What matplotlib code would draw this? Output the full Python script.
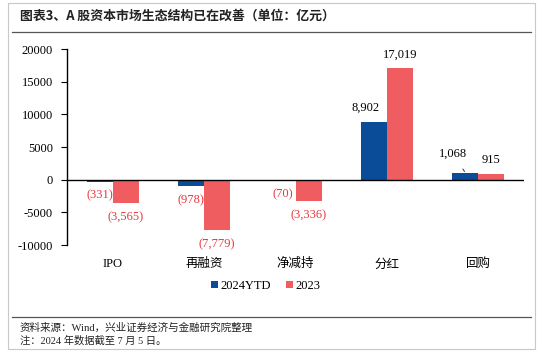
import matplotlib
matplotlib.use("Agg")
import matplotlib.pyplot as plt
from matplotlib.patches import Rectangle
from matplotlib.lines import Line2D

categories = ["IPO", "再融资", "净减持", "分红", "回购"]
series_names = ["2024YTD", "2023"]
values_2024 = [-331, -978, -70, 8902, 1068]
values_2023 = [-3565, -7779, -3336, 17019, 915]
yticks = [-10000, -5000, 0, 5000, 10000, 15000, 20000]

title = "图表3、A 股资本市场生态结构已在改善（单位：亿元）"
source = "资料来源：Wind，兴业证券经济与金融研究院整理"
note = "注：2024 年数据截至 7 月 5 日。"

BLUE = "#0a4c97"
RED = "#f05d61"
LABEL_RED = "#e8383d"
SERIF = ["Liberation Serif", "Noto Serif CJK SC", "Noto Sans CJK SC", "DejaVu Serif"]
CJK = ["Noto Sans CJK SC", "DejaVu Sans"]
MIX = ["Liberation Serif", "Noto Sans CJK SC", "DejaVu Sans"]

W, H = 542, 351
fig = plt.figure(figsize=(W / 100, H / 100), dpi=100)

def px(x, y):
    return x / W, 1 - y / H

# frame and separators
fig.patches.append(Rectangle((8 / W, 1 - 349 / H), (535 - 8) / W, (349 - 3) / H,
                             transform=fig.transFigure, fill=False,
                             edgecolor="#c8c8c8", linewidth=0.8))
for yy in (32, 317):
    fig.lines.append(Line2D([12 / W, 531 / W], [1 - yy / H, 1 - yy / H],
                            transform=fig.transFigure, color="#555555", linewidth=0.9))

fig.text(*px(20, 16), title, family=CJK, fontsize=9.3, fontweight="bold",
         va="center", ha="left", color="#222222")
fig.text(*px(20, 328), source, family=MIX, fontsize=7.6, va="center", ha="left", color="#222222")
fig.text(*px(20, 341), note, family=MIX, fontsize=7.4, va="center", ha="left", color="#222222")

l, t, r, b = 67, 49, 524, 245
ax = fig.add_axes([l / W, 1 - b / H, (r - l) / W, (b - t) / H])
ax.set_xlim(-0.5, len(categories) - 0.5)
ax.set_ylim(-10000, 20000)

x = list(range(len(categories)))
bw = 0.285
b1 = ax.bar([i - bw / 2 for i in x], values_2024, bw, color=BLUE, label=series_names[0], zorder=2)
b2 = ax.bar([i + bw / 2 for i in x], values_2023, bw, color=RED, label=series_names[1], zorder=2)
ax.axhline(0, color="black", linewidth=1.0, zorder=3)

for s in ("top", "right", "bottom"):
    ax.spines[s].set_visible(False)
ax.spines["left"].set_linewidth(1.0)
ax.set_yticks(yticks)
ax.set_yticklabels([str(v) for v in yticks], family=SERIF, fontsize=9)
ax.tick_params(axis="y", direction="out", length=4, width=0.8, pad=6)
ax.tick_params(axis="x", length=0, pad=0)
ax.set_xticks([])
for i, c in enumerate(categories):
    ax.annotate(c, (i, -10000), xytext=(0, -14), textcoords="offset points",
                ha="center", va="center", family=MIX, fontsize=9, annotation_clip=False)

def fmt(v):
    s = f"{abs(v):,}"
    return f"({s})" if v < 0 else s

for si, (bars, vals) in enumerate(((b1, values_2024), (b2, values_2023))):
    for ci, (rect, v) in enumerate(zip(bars, vals)):
        cx = rect.get_x() + rect.get_width() / 2
        if v < 0:
            ax.annotate(fmt(v), (cx, v), xytext=(0, -10), textcoords="offset points",
                        ha="center", va="center", family=SERIF, fontsize=9, color=LABEL_RED)
        elif si == 0 and ci == 4:
            ax.annotate(fmt(v), (cx, v), xytext=(-9, 14), textcoords="offset points",
                        ha="center", va="center", family=SERIF, fontsize=9,
                        arrowprops=dict(arrowstyle="-", color="#333333", lw=0.7,
                                        shrinkA=6, shrinkB=1))
        elif si == 0 and ci == 3:
            ax.annotate(fmt(v), (cx, v), xytext=(-6, 10), textcoords="offset points",
                        ha="center", va="center", family=SERIF, fontsize=9)
        else:
            ax.annotate(fmt(v), (cx, v), xytext=(0, 10), textcoords="offset points",
                        ha="center", va="center", family=SERIF, fontsize=9)

fig.legend(handles=[b1, b2], labels=series_names, loc="center", bbox_to_anchor=px(266, 286),
           ncol=2, frameon=False, prop={"family": "Liberation Serif", "size": 9},
           handlelength=0.55, handleheight=0.55, handletextpad=0.2, columnspacing=1.2)

fig.savefig("out.png", dpi=100)
